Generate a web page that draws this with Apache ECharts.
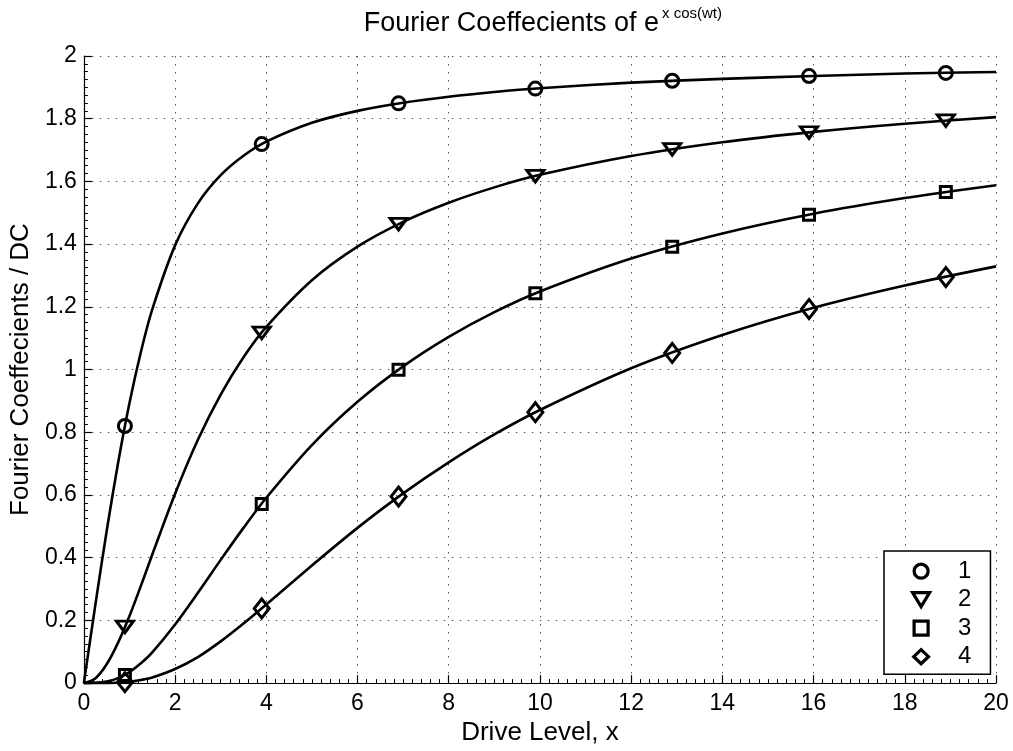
<!DOCTYPE html>
<html>
<head>
<meta charset="utf-8">
<script src="https://cdn.jsdelivr.net/npm/echarts@6/dist/echarts.min.js"></script>
<style>
html,body{margin:0;padding:0;background:#fff;}
#chart{width:1013px;height:751px;}
</style>
</head>
<body>
<div id="chart"></div>
<script>
// Curve sample points
var xs = [0, 0.25, 0.5, 0.75, 1, 1.25, 1.5, 2, 2.5, 3, 3.5, 4, 5, 6, 7, 8, 9, 10, 12, 14, 16, 18, 20];
var c1 = [0, 0.248, 0.485, 0.702, 0.893, 1.056, 1.192, 1.396, 1.530, 1.620, 1.682, 1.727, 1.787, 1.825, 1.851, 1.870, 1.885, 1.897, 1.915, 1.927, 1.936, 1.944, 1.949];
var c2 = [0, 0.015, 0.060, 0.129, 0.214, 0.310, 0.410, 0.604, 0.776, 0.920, 1.039, 1.136, 1.285, 1.392, 1.471, 1.532, 1.581, 1.621, 1.681, 1.725, 1.758, 1.784, 1.805];
var c3 = [0, 0.001, 0.005, 0.016, 0.035, 0.063, 0.098, 0.187, 0.288, 0.393, 0.495, 0.591, 0.759, 0.897, 1.010, 1.104, 1.183, 1.249, 1.354, 1.434, 1.497, 1.547, 1.588];
var c4 = [0, 0, 0, 0.001, 0.004, 0.010, 0.018, 0.045, 0.083, 0.133, 0.190, 0.251, 0.375, 0.495, 0.605, 0.704, 0.793, 0.871, 1.004, 1.110, 1.197, 1.268, 1.329];

// Marker points
var mx = [0.9, 3.9, 6.9, 9.9, 12.9, 15.9, 18.9];
var m1 = [0.820, 1.719, 1.849, 1.896, 1.921, 1.936, 1.946];
var m2 = [0.179, 1.117, 1.464, 1.617, 1.702, 1.756, 1.794];
var m3 = [0.026, 0.571, 0.999, 1.243, 1.392, 1.494, 1.566];
var m4 = [0.003, 0.238, 0.595, 0.864, 1.053, 1.193, 1.295];

var names = ['1', '2', '3', '4'];
var titleMain = 'Fourier Coeffecients of e';
var titleSup = 'x cos(wt)';
var xName = 'Drive Level, x';
var yName = 'Fourier Coeffecients / DC';

var FONT = '"Liberation Sans", Arial, Helvetica, sans-serif';
var symTri = 'path://M0,0 L17,0 L8.5,14 Z';
var symSq = 'path://M0,0 L10,0 L10,10 L0,10 Z';
var symDiaLegend = 'path://M10,0 L20,9.5 L10,19 L0,9.5 Z';
var symbols = ['circle', symTri, symSq, 'diamond'];
var legendIcons = ['circle', symTri, symSq, symDiaLegend];
var symSizes = [13, [17, 14], 11, [15, 19]];

function zip(a, b) { return a.map(function (v, i) { return [v, b[i]]; }); }

var curves = [c1, c2, c3, c4];
var marks = [m1, m2, m3, m4];
var series = [];
curves.forEach(function (c, i) {
  series.push({
    type: 'line', name: 'curve' + names[i], data: zip(xs, c),
    smooth: 0.3, showSymbol: false, symbol: 'none',
    lineStyle: { color: '#000', width: 2.6 }, z: 2, silent: true
  });
});
marks.forEach(function (m, i) {
  series.push({
    type: 'scatter', name: names[i], data: zip(mx, m),
    symbol: symbols[i], symbolSize: symSizes[i], symbolKeepAspect: true,
    itemStyle: { color: 'rgba(0,0,0,0)', borderColor: '#000', borderWidth: 3, opacity: 1 },
    z: 3, silent: true
  });
});

var chart = echarts.init(document.getElementById('chart'), null, { renderer: 'canvas' });
chart.setOption({
  backgroundColor: '#fff',
  animation: false,
  grid: { left: 82, right: 17, top: 56, bottom: 67, containLabel: false },
  graphic: [
    { type: 'text', x: 659, y: 24, style: { text: titleMain, font: '27px ' + FONT, fill: '#000', textAlign: 'right', textVerticalAlign: 'middle' } },
    { type: 'text', x: 662, y: 14, style: { text: titleSup, font: '15px ' + FONT, fill: '#000', textAlign: 'left', textVerticalAlign: 'middle' } }
  ],
  legend: {
    orient: 'vertical', left: 884, top: 551,
    data: names.map(function (n, i) { return { name: n, icon: legendIcons[i] }; }),
    itemWidth: 64, itemHeight: 14, itemGap: 4.5,
    padding: [8.2, 19, 5.5, 27],
    backgroundColor: '#fff', borderColor: '#000', borderWidth: 1.5, borderRadius: 0,
    symbolKeepAspect: true,
    itemStyle: { color: 'rgba(0,0,0,0)', borderColor: '#000', borderWidth: 3.2 },
    textStyle: { fontFamily: FONT, fontSize: 24, color: '#000', lineHeight: 24 },
    selectedMode: false
  },
  xAxis: {
    type: 'value', min: 0, max: 20, interval: 2,
    name: xName, nameLocation: 'middle', nameGap: 32,
    nameTextStyle: { fontFamily: FONT, fontSize: 26, color: '#000' },
    axisLine: { show: true, onZero: false, lineStyle: { color: '#000', width: 1.2 } },
    axisTick: { show: true, inside: true, length: 8, lineStyle: { color: '#000', width: 1.2 } },
    minorTick: { show: true, splitNumber: 10, length: 4, lineStyle: { color: '#000', width: 1 } },
    axisLabel: { fontFamily: FONT, fontSize: 23, color: '#000', margin: 9 },
    splitLine: { show: true, showMinLine: true, showMaxLine: true, lineStyle: { color: '#555', width: 1, type: [1.5, 6.5] } },
    minorSplitLine: { show: false }
  },
  yAxis: {
    type: 'value', min: 0, max: 2, interval: 0.2,
    name: yName, nameLocation: 'middle', nameGap: 46, nameRotate: 90,
    nameTextStyle: { fontFamily: FONT, fontSize: 26, color: '#000' },
    axisLine: { show: true, onZero: false, lineStyle: { color: '#000', width: 1.2 } },
    axisTick: { show: true, inside: true, length: 8, lineStyle: { color: '#000', width: 1.2 } },
    minorTick: { show: true, splitNumber: 8, length: 4, lineStyle: { color: '#000', width: 1 } },
    axisLabel: { fontFamily: FONT, fontSize: 23, color: '#000', margin: 7 },
    splitLine: { show: true, showMinLine: true, showMaxLine: true, lineStyle: { color: '#555', width: 1, type: [1.5, 6.5] } },
    minorSplitLine: { show: false }
  },
  series: series
});
</script>
</body>
</html>
